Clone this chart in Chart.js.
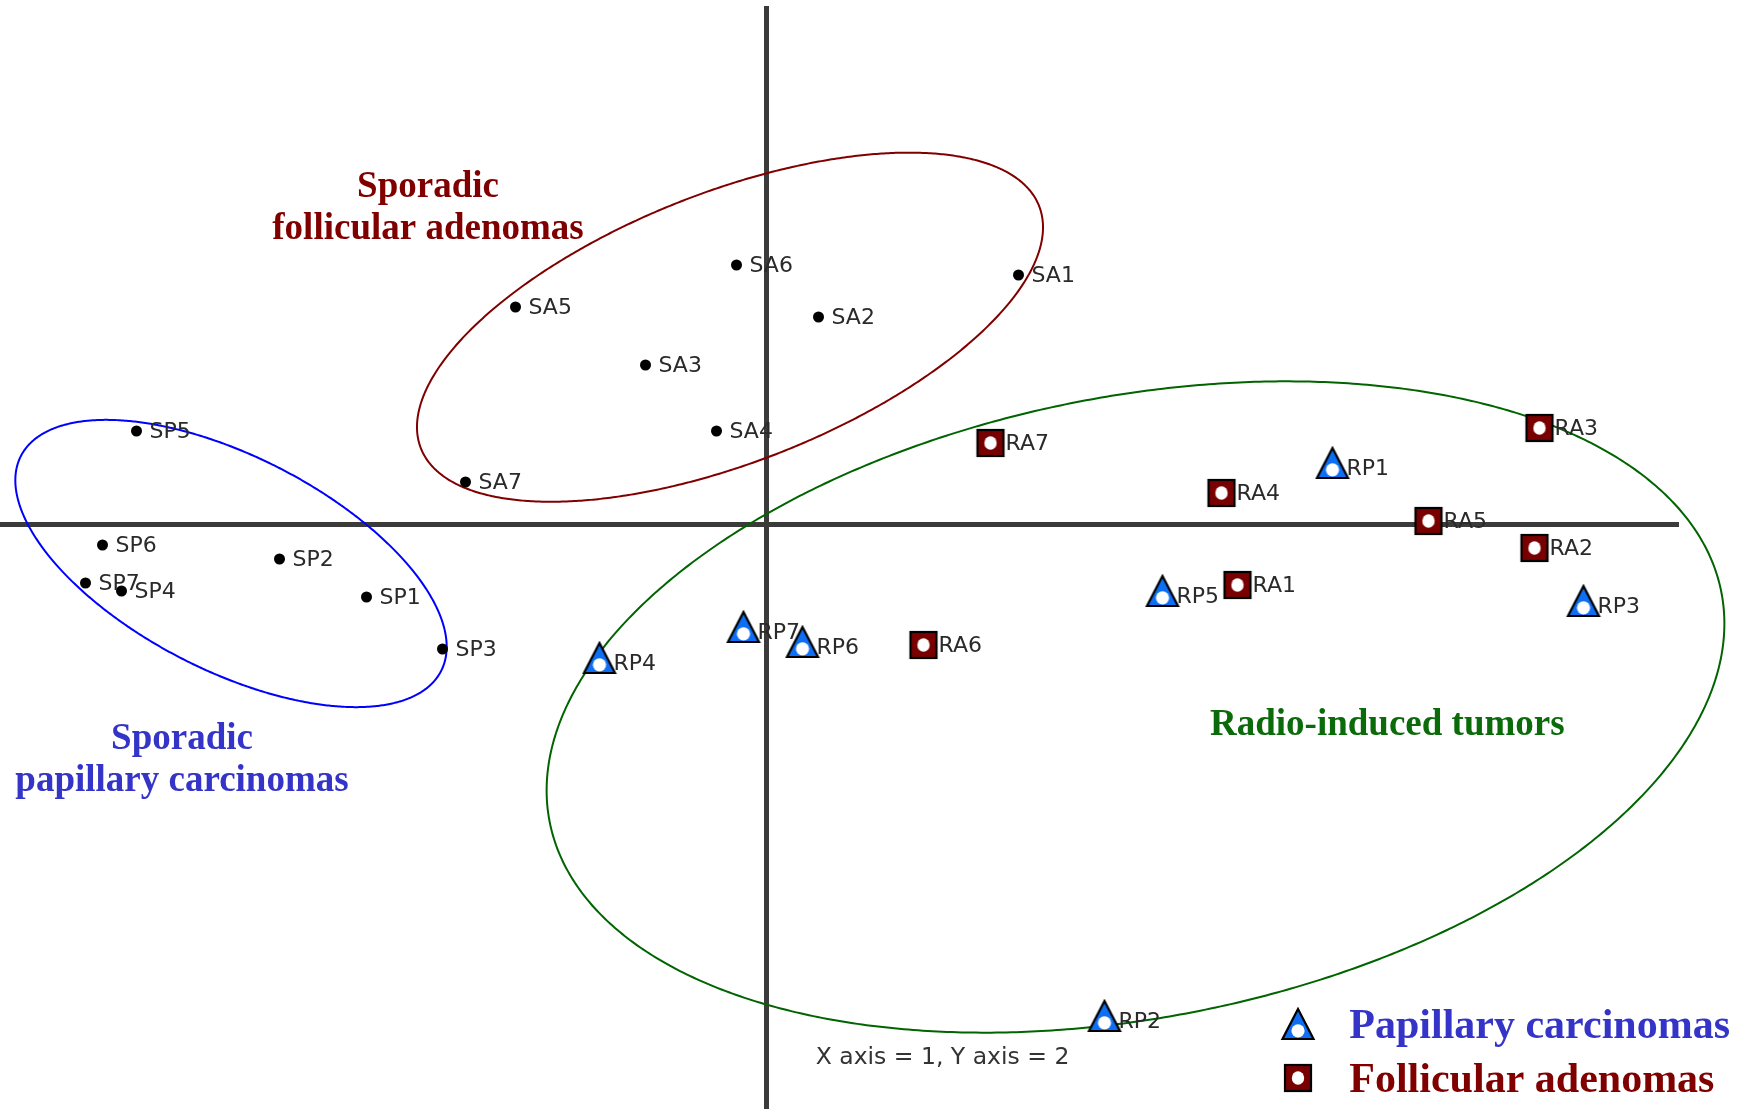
<!DOCTYPE html>
<html>
<head>
<meta charset="utf-8">
<script src="https://cdn.jsdelivr.net/npm/chart.js@4.4.1/dist/chart.umd.min.js"></script>
<style>
  html, body { margin: 0; padding: 0; background: #ffffff; }
  #wrap { width: 1743px; height: 1109px; }
</style>
</head>
<body>
<div id="wrap"><canvas id="pca" width="1743" height="1109"></canvas></div>
<script>
// Sample names and their scores on principal axes 1 (x) and 2 (y)
const sporadicPapillaryNames = ['SP1', 'SP2', 'SP3', 'SP4', 'SP5', 'SP6', 'SP7'];
const sporadicPapillaryAxis1 = [-4.00, -4.87, -3.24, -6.45, -6.30, -6.64, -6.81];
const sporadicPapillaryAxis2 = [-0.73, -0.35, -1.25, -0.67, 0.93, -0.21, -0.59];

const sporadicAdenomaNames = ['SA1', 'SA2', 'SA3', 'SA4', 'SA5', 'SA6', 'SA7'];
const sporadicAdenomaAxis1 = [2.52, 0.52, -1.21, -0.50, -2.51, -0.30, -3.01];
const sporadicAdenomaAxis2 = [2.49, 2.07, 1.59, 0.93, 2.17, 2.59, 0.42];

const radioPapillaryNames = ['RP1', 'RP2', 'RP3', 'RP4', 'RP5', 'RP6', 'RP7'];
const radioPapillaryAxis1 = [5.66, 3.38, 8.17, -1.67, 3.96, 0.36, -0.23];
const radioPapillaryAxis2 = [0.56, -4.97, -0.82, -1.39, -0.72, -1.23, -1.08];

const radioAdenomaNames = ['RA1', 'RA2', 'RA3', 'RA4', 'RA5', 'RA6', 'RA7'];
const radioAdenomaAxis1 = [4.71, 7.68, 7.73, 4.55, 6.62, 1.57, 2.24];
const radioAdenomaAxis2 = [-0.61, -0.24, 0.96, 0.31, 0.03, -1.21, 0.81];

// Group ellipses (sporadic papillary, sporadic follicular, radio-induced):
// centre, semi-axes and tilt in degrees, all in axis units
const ellipseCenterX = [-5.355, -0.365, 3.69];
const ellipseCenterY = [-0.395, 1.968, -1.83];
const ellipseSemiMajor = [2.36, 3.32, 5.97];
const ellipseSemiMinor = [1.07, 1.35, 3.105];
const ellipseTilt = [-27.1, 21.4, 11.1];

// Visible extent of both axes
const axis1Range = [-7.665, 9.125];
const axis2Range = [-5.85, 5.18];

// ---- styles ----
const ellipseColors = ['#0000ff', '#800000', '#006400'];
const AXIS_COLOR = '#3b3b3b';
const LABEL_FONT = '22px "DejaVu Sans", sans-serif';
const SERIF_BOLD = (px) => 'bold ' + px + 'px "Liberation Serif", "Times New Roman", serif';

function toPoints(xs, ys) { return xs.map((v, i) => ({ x: v, y: ys[i] })); }

// Marker images: blue triangle and maroon square, each with a white dot
function makeTriangle() {
  const c = document.createElement('canvas');
  c.width = 36; c.height = 44;
  const g = c.getContext('2d');
  const cx = 18, cy = 22;
  g.beginPath();
  g.moveTo(cx, cy - 20);
  g.lineTo(cx + 15.5, cy + 10);
  g.lineTo(cx - 15.5, cy + 10);
  g.closePath();
  g.fillStyle = '#0e6ff4';
  g.fill();
  g.lineWidth = 2.2;
  g.lineJoin = 'miter';
  g.strokeStyle = '#000000';
  g.stroke();
  g.beginPath();
  g.arc(cx, cy + 1.8, 6.6, 0, Math.PI * 2);
  g.fillStyle = '#ffffff';
  g.fill();
  return c;
}
function makeSquare() {
  const c = document.createElement('canvas');
  c.width = 32; c.height = 32;
  const g = c.getContext('2d');
  g.fillStyle = '#780000';
  g.fillRect(3, 3, 26, 26);
  g.lineWidth = 2.2;
  g.strokeStyle = '#000000';
  g.strokeRect(3, 3, 26, 26);
  g.beginPath();
  g.ellipse(16, 16, 6.2, 6.8, 0, 0, Math.PI * 2);
  g.fillStyle = '#ffffff';
  g.fill();
  return c;
}
const triangleMarker = makeTriangle();
const squareMarker = makeSquare();

// Text placed in axis units
const groupTitles = [
  { lines: ['Sporadic', 'follicular adenomas'], x: -3.385, y: 3.273, color: '#800000' },
  { lines: ['Sporadic', 'papillary carcinomas'], x: -5.845, y: -2.25, color: '#3434c8' },
  { lines: ['Radio-induced tumors'], x: 6.208, y: -2.11, color: '#0b6b0b' }
];
const caption = { text: 'X axis = 1, Y axis = 2', x: 1.76, y: -5.40 };
const legendItems = [
  { marker: triangleMarker, text: 'Papillary carcinomas', color: '#3434c8', mx: 5.318, my: -5.053, ty: -5.143 },
  { marker: squareMarker, text: 'Follicular adenomas', color: '#800000', mx: 5.318, my: -5.543, ty: -5.677 }
];
const legendTextX = 5.828;

const ellipsePlugin = {
  id: 'groupEllipses',
  beforeDatasetsDraw(chart) {
    const { ctx } = chart;
    const xs = chart.scales.x, ys = chart.scales.y;
    ctx.save();
    ctx.lineWidth = 2;
    for (let k = 0; k < ellipseCenterX.length; k++) {
      const th = ellipseTilt[k] * Math.PI / 180;
      ctx.beginPath();
      for (let s = 0; s <= 720; s++) {
        const t = s * Math.PI / 360;
        const ux = ellipseSemiMajor[k] * Math.cos(t);
        const uy = ellipseSemiMinor[k] * Math.sin(t);
        const dx = ux * Math.cos(th) - uy * Math.sin(th);
        const dy = ux * Math.sin(th) + uy * Math.cos(th);
        const px = xs.getPixelForValue(ellipseCenterX[k] + dx);
        const py = ys.getPixelForValue(ellipseCenterY[k] + dy);
        if (s === 0) ctx.moveTo(px, py); else ctx.lineTo(px, py);
      }
      ctx.closePath();
      ctx.strokeStyle = ellipseColors[k];
      ctx.stroke();
    }
    ctx.restore();
  }
};

const pointLabelPlugin = {
  id: 'pointLabels',
  afterDatasetsDraw(chart) {
    const { ctx } = chart;
    ctx.save();
    ctx.font = LABEL_FONT;
    ctx.fillStyle = '#2a2a2a';
    ctx.textAlign = 'left';
    ctx.textBaseline = 'alphabetic';
    chart.data.datasets.forEach((ds, i) => {
      const meta = chart.getDatasetMeta(i);
      meta.data.forEach((el, j) => {
        ctx.fillText(ds.names[j], el.x + ds.labelGap, el.y + 6.5);
      });
    });
    ctx.restore();
  }
};

const textPlugin = {
  id: 'titlesAndLegend',
  afterDraw(chart) {
    const { ctx } = chart;
    const xs = chart.scales.x, ys = chart.scales.y;
    ctx.save();
    ctx.textBaseline = 'alphabetic';
    ctx.textAlign = 'center';
    ctx.font = SERIF_BOLD(37);
    groupTitles.forEach(t => {
      ctx.fillStyle = t.color;
      const px = xs.getPixelForValue(t.x);
      const py = ys.getPixelForValue(t.y);
      t.lines.forEach((line, n) => ctx.fillText(line, px, py + n * 41.8));
    });
    ctx.font = '23.5px "DejaVu Sans", sans-serif';
    ctx.fillStyle = '#333333';
    ctx.fillText(caption.text, xs.getPixelForValue(caption.x), ys.getPixelForValue(caption.y));

    ctx.textAlign = 'left';
    ctx.font = SERIF_BOLD(42);
    legendItems.forEach(it => {
      const mx = xs.getPixelForValue(it.mx), my = ys.getPixelForValue(it.my);
      ctx.drawImage(it.marker, Math.round(mx - it.marker.width / 2), Math.round(my - it.marker.height / 2));
      ctx.fillStyle = it.color;
      ctx.fillText(it.text, xs.getPixelForValue(legendTextX), ys.getPixelForValue(it.ty));
    });
    ctx.restore();
  }
};

const zeroOnly = (scale) => { scale.ticks = [{ value: 0 }]; };

new Chart(document.getElementById('pca'), {
  type: 'scatter',
  data: {
    datasets: [
      {
        label: 'Sporadic papillary carcinomas',
        names: sporadicPapillaryNames, labelGap: 13,
        data: toPoints(sporadicPapillaryAxis1, sporadicPapillaryAxis2),
        pointStyle: 'circle', pointRadius: 5.5, pointBackgroundColor: '#000000', pointBorderWidth: 0
      },
      {
        label: 'Sporadic follicular adenomas',
        names: sporadicAdenomaNames, labelGap: 13,
        data: toPoints(sporadicAdenomaAxis1, sporadicAdenomaAxis2),
        pointStyle: 'circle', pointRadius: 5.5, pointBackgroundColor: '#000000', pointBorderWidth: 0
      },
      {
        label: 'Radio-induced follicular adenomas',
        names: radioAdenomaNames, labelGap: 15,
        data: toPoints(radioAdenomaAxis1, radioAdenomaAxis2),
        pointStyle: squareMarker, pointRadius: 14
      },
      {
        label: 'Radio-induced papillary carcinomas',
        names: radioPapillaryNames, labelGap: 14,
        data: toPoints(radioPapillaryAxis1, radioPapillaryAxis2),
        pointStyle: triangleMarker, pointRadius: 16
      }
    ]
  },
  options: {
    responsive: false,
    animation: false,
    events: [],
    clip: false,
    layout: { autoPadding: false, padding: { top: 6, right: 64, bottom: 0, left: 0 } },
    plugins: { legend: { display: false }, tooltip: { enabled: false } },
    scales: {
      x: {
        type: 'linear', min: axis1Range[0], max: axis1Range[1],
        afterBuildTicks: zeroOnly,
        ticks: { display: false },
        border: { display: false },
        grid: { color: AXIS_COLOR, lineWidth: 5, drawTicks: false }
      },
      y: {
        type: 'linear', min: axis2Range[0], max: axis2Range[1],
        afterBuildTicks: zeroOnly,
        ticks: { display: false },
        border: { display: false },
        grid: { color: AXIS_COLOR, lineWidth: 5, drawTicks: false }
      }
    }
  },
  plugins: [ellipsePlugin, pointLabelPlugin, textPlugin]
});
</script>
</body>
</html>
